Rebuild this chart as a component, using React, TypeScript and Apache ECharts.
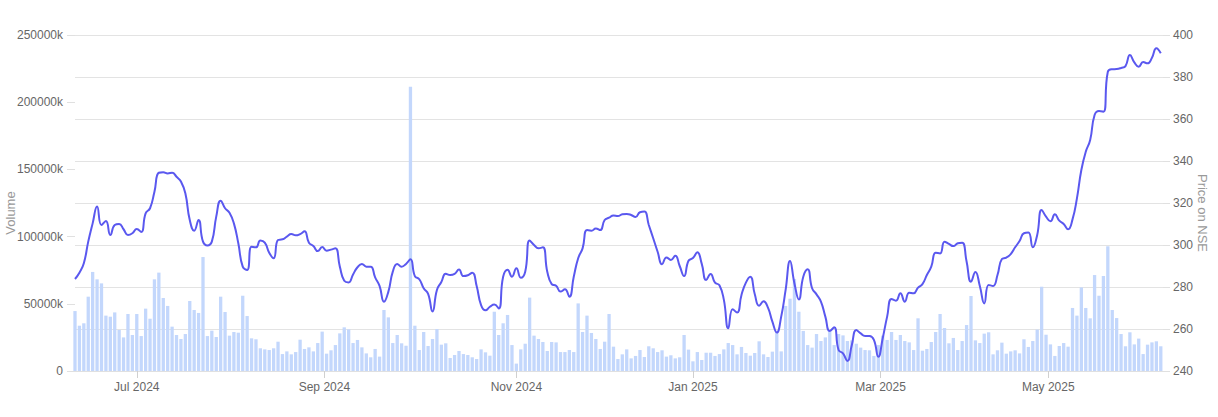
import React, { useEffect, useRef } from "react";
import * as echarts from "echarts";

// NSE trading days shown on the chart
const dates: string[] = [
  "2024-06-10","2024-06-11","2024-06-12","2024-06-13","2024-06-14","2024-06-18","2024-06-19","2024-06-20","2024-06-21","2024-06-24","2024-06-25","2024-06-26","2024-06-27","2024-06-28",
  "2024-07-01","2024-07-02","2024-07-03","2024-07-04","2024-07-05","2024-07-08","2024-07-09","2024-07-10","2024-07-11","2024-07-12","2024-07-15","2024-07-16","2024-07-18","2024-07-19","2024-07-22","2024-07-23","2024-07-24","2024-07-25","2024-07-26","2024-07-29","2024-07-30","2024-07-31",
  "2024-08-01","2024-08-02","2024-08-05","2024-08-06","2024-08-07","2024-08-08","2024-08-09","2024-08-12","2024-08-13","2024-08-14","2024-08-16","2024-08-19","2024-08-20","2024-08-21","2024-08-22","2024-08-23","2024-08-26","2024-08-27","2024-08-28","2024-08-29","2024-08-30",
  "2024-09-02","2024-09-03","2024-09-04","2024-09-05","2024-09-06","2024-09-09","2024-09-10","2024-09-11","2024-09-12","2024-09-13","2024-09-16","2024-09-17","2024-09-18","2024-09-19","2024-09-20","2024-09-23","2024-09-24","2024-09-25","2024-09-26","2024-09-27","2024-09-30",
  "2024-10-01","2024-10-03","2024-10-04","2024-10-07","2024-10-08","2024-10-09","2024-10-10","2024-10-11","2024-10-14","2024-10-15","2024-10-16","2024-10-17","2024-10-18","2024-10-21","2024-10-22","2024-10-23","2024-10-24","2024-10-25","2024-10-28","2024-10-29","2024-10-30","2024-10-31",
  "2024-11-01","2024-11-04","2024-11-05","2024-11-06","2024-11-07","2024-11-08","2024-11-11","2024-11-12","2024-11-13","2024-11-14","2024-11-18","2024-11-19","2024-11-21","2024-11-22","2024-11-25","2024-11-26","2024-11-27","2024-11-28","2024-11-29",
  "2024-12-02","2024-12-03","2024-12-04","2024-12-05","2024-12-06","2024-12-09","2024-12-10","2024-12-11","2024-12-12","2024-12-13","2024-12-16","2024-12-17","2024-12-18","2024-12-19","2024-12-20","2024-12-23","2024-12-24","2024-12-26","2024-12-27","2024-12-30","2024-12-31",
  "2025-01-01","2025-01-02","2025-01-03","2025-01-06","2025-01-07","2025-01-08","2025-01-09","2025-01-10","2025-01-13","2025-01-14","2025-01-15","2025-01-16","2025-01-17","2025-01-20","2025-01-21","2025-01-22","2025-01-23","2025-01-24","2025-01-27","2025-01-28","2025-01-29","2025-01-30","2025-01-31",
  "2025-02-01","2025-02-03","2025-02-04","2025-02-05","2025-02-06","2025-02-07","2025-02-10","2025-02-11","2025-02-12","2025-02-13","2025-02-14","2025-02-17","2025-02-18","2025-02-19","2025-02-20","2025-02-21","2025-02-24","2025-02-25","2025-02-27","2025-02-28",
  "2025-03-03","2025-03-04","2025-03-05","2025-03-06","2025-03-07","2025-03-10","2025-03-11","2025-03-12","2025-03-13","2025-03-17","2025-03-18","2025-03-19","2025-03-20","2025-03-21","2025-03-24","2025-03-25","2025-03-26","2025-03-27","2025-03-28",
  "2025-04-01","2025-04-02","2025-04-03","2025-04-04","2025-04-07","2025-04-08","2025-04-09","2025-04-11","2025-04-15","2025-04-16","2025-04-17","2025-04-21","2025-04-22","2025-04-23","2025-04-24","2025-04-25","2025-04-28","2025-04-29","2025-04-30",
  "2025-05-02","2025-05-05","2025-05-06","2025-05-07","2025-05-08","2025-05-09","2025-05-12","2025-05-13","2025-05-14","2025-05-15","2025-05-16","2025-05-19","2025-05-20","2025-05-21","2025-05-22","2025-05-23","2025-05-26","2025-05-27","2025-05-28","2025-05-29","2025-05-30",
  "2025-06-02","2025-06-03","2025-06-04","2025-06-05","2025-06-06",
];

// Daily volume, in thousands of shares
const volumeK: number[] = [
  44600, 33700, 35500, 55300, 73700, 68200, 65200, 41200, 40400, 43600,
  30500, 25000, 42400, 26800, 42400, 26000, 46400, 38900, 68200, 73200,
  54300, 48400, 33000, 26800, 23800, 27500, 52100, 45400, 43200, 84800,
  26000, 30000, 25300, 55300, 43900, 26300, 29000, 28500, 56000, 40900,
  24300, 23600, 16900, 16100, 15600, 16900, 21800, 12600, 14600, 12400,
  14100, 23300, 16400, 17600, 14600, 20800, 29300, 12900, 15400, 19300,
  28000, 32500, 31000, 20800, 23100, 17600, 13100, 10200, 16400, 10700,
  45400, 39900, 20800, 26800, 20600, 18800, 211500, 33700, 15600, 29000,
  18600, 23800, 31200, 19600, 20600, 9700, 11900, 14900, 12600, 11900,
  10200, 8900, 16100, 13900, 11400, 44100, 26800, 35500, 41700, 19300,
  5500, 16100, 20300, 54600, 26300, 23800, 21600, 14900, 21600, 21300,
  14100, 14100, 15600, 14100, 50300, 29000, 41200, 28300, 23800, 16400,
  21800, 42400, 18100, 8900, 12400, 16100, 9400, 11200, 15600, 10400,
  18400, 16900, 14100, 15400, 10700, 11700, 9400, 10200, 26800, 15900,
  7200, 14100, 8200, 13600, 13600, 11200, 12600, 16100, 20800, 19300,
  12400, 17900, 13400, 11400, 13400, 22100, 12400, 10400, 14400, 29000,
  14600, 48400, 53800, 68400, 44100, 29800, 19300, 17400, 27500, 22300,
  25000, 29300, 19300, 27500, 26500, 22300, 22800, 20300, 17400, 15600,
  15400, 11200, 19300, 26300, 23100, 29000, 23100, 26800, 22300, 21300,
  15600, 39200, 15100, 16400, 21600, 29000, 42400, 32000, 20600, 24600,
  15600, 22300, 34200, 55800, 22800, 20800, 27800, 28800, 12400, 15400,
  21100, 12900, 14600, 15400, 13100, 23600, 17900, 22300, 30800, 62700,
  27000, 19800, 11200, 18600, 20800, 18100, 46900, 41200, 62200, 46900,
  39200, 71400, 56000, 70700, 92800, 45400, 39400, 27500, 18400, 28800,
  19800, 24100, 12600, 19600, 21300, 22100, 18400,
];

// Closing price on NSE
const priceNSE: number[] = [
  283.8, 286.8, 291.3, 301.6, 310.3, 318.3, 309.5, 311.4, 304.8, 309.5,
  310.0, 307.5, 304.8, 305.6, 307.6, 306.2, 315.1, 317.5, 325.4, 334.4,
  334.6, 334.1, 334.4, 332.5, 330.2, 324.6, 311.9, 306.8, 311.9, 301.6,
  299.8, 301.6, 313.5, 321.1, 317.5, 315.4, 310.3, 300.8, 289.7, 288.1,
  299.2, 298.9, 302.1, 301.1, 296.3, 293.7, 302.4, 302.7, 304.0, 305.2,
  304.6, 305.2, 306.5, 301.1, 299.5, 297.1, 299.0, 297.3, 297.8, 298.4,
  289.7, 283.0, 282.2, 286.0, 289.4, 291.0, 289.7, 289.7, 284.6, 280.5,
  273.0, 277.8, 287.3, 291.0, 289.7, 291.0, 293.2, 285.2, 283.7, 279.4,
  276.7, 268.3, 278.6, 282.4, 286.3, 285.7, 286.2, 288.3, 285.2, 285.6,
  286.8, 280.5, 271.4, 268.9, 270.6, 271.7, 269.8, 284.9, 288.2, 284.9,
  288.9, 284.4, 287.3, 302.1, 300.0, 298.4, 298.9, 287.3, 281.4, 280.6,
  277.8, 278.9, 275.4, 284.9, 293.7, 298.4, 307.1, 306.8, 307.9, 307.1,
  311.9, 313.0, 314.1, 313.8, 314.6, 314.8, 314.3, 313.3, 315.6, 315.9,
  309.5, 303.2, 296.8, 290.8, 294.1, 292.9, 294.9, 290.0, 285.2, 292.5,
  293.8, 296.5, 291.0, 283.3, 286.2, 282.1, 280.8, 274.0, 260.3, 269.4,
  267.8, 276.2, 282.1, 284.9, 276.7, 271.1, 273.2, 270.2, 263.5, 258.3,
  265.9, 278.6, 292.4, 281.7, 274.1, 284.9, 288.4, 279.4, 276.5, 273.0,
  265.9, 259.0, 260.8, 250.0, 248.4, 244.8, 252.4, 259.5, 257.9, 256.7,
  256.7, 254.8, 246.8, 255.6, 265.9, 274.3, 273.5, 277.0, 273.0, 277.3,
  277.0, 279.7, 281.4, 285.7, 289.7, 296.3, 296.0, 301.6, 300.5, 299.5,
  300.8, 301.1, 292.1, 282.5, 287.1, 280.5, 272.2, 281.0, 280.5, 285.7,
  293.3, 294.0, 295.7, 298.9, 301.9, 305.6, 305.9, 298.9, 304.8, 316.7,
  313.5, 311.3, 314.6, 311.6, 310.0, 307.5, 312.2, 322.2, 335.7, 344.4,
  350.0, 361.9, 363.8, 363.5, 382.5, 383.7, 383.8, 384.3, 385.2, 390.5,
  387.0, 384.9, 387.1, 386.5, 389.2, 393.7, 391.3,
];

const monthKeys: string[] = ["2024-07", "2024-09", "2024-11", "2025-01", "2025-03", "2025-05"];
const monthLabels: string[] = ["Jul 2024", "Sep 2024", "Nov 2024", "Jan 2025", "Mar 2025", "May 2025"];

function monthTickPos(key: string): number {
  const idx = dates.findIndex((d) => d.startsWith(key));
  return dates[idx].endsWith("-01") ? idx : idx - 0.5;
}

export default function App() {
  const ref = useRef<HTMLDivElement>(null);
  useEffect(() => {
    if (!ref.current) return;
    const chart = echarts.init(ref.current, undefined, { renderer: "svg" });
    const tickPos = monthKeys.map(monthTickPos);
    const font = "'Liberation Sans', Arial, Helvetica, sans-serif";
    chart.setOption({
      animation: false,
      textStyle: { fontFamily: font },
      grid: {
        left: 75,
        right: 55,
        top: 35,
        bottom: 46,
        containLabel: false,
        outerBoundsMode: "none",
      },
      xAxis: {
        type: "value",
        min: 0,
        max: dates.length - 0.5,
        axisLine: { show: true, lineStyle: { color: "#e0e0e0", width: 1 } },
        axisTick: { show: true, customValues: tickPos, length: 7, lineStyle: { color: "#d0d0d0" } },
        axisLabel: {
          customValues: tickPos,
          color: "#666",
          fontSize: 12,
          margin: 10,
          fontFamily: font,
          formatter: (v: number) => {
            const k = tickPos.findIndex((p) => Math.abs(p - v) < 0.01);
            return k >= 0 ? monthLabels[k] : "";
          },
        },
        splitLine: { show: false },
      },
      yAxis: [
        {
          type: "value",
          position: "left",
          name: "Volume",
          nameLocation: "middle",
          nameGap: 58,
          nameMoveOverlap: false,
          nameTextStyle: { color: "#999", fontSize: 13, fontFamily: font, padding: [0, 20, 0, 0] },
          min: 0,
          max: 250000,
          interval: 50000,
          axisLine: { show: false },
          axisTick: { show: true, length: 8, lineStyle: { color: "#e0e0e0" } },
          axisLabel: {
            color: "#666",
            fontSize: 12,
            margin: 12,
            fontFamily: font,
            formatter: (v: number) => (v === 0 ? "0" : `${v}k`),
          },
          splitLine: { show: false },
        },
        {
          type: "value",
          position: "right",
          name: "Price on NSE",
          nameLocation: "middle",
          nameRotate: -90,
          nameGap: 33,
          nameMoveOverlap: false,
          nameTextStyle: { color: "#999", fontSize: 13, fontFamily: font, padding: [0, 0, 0, 20] },
          min: 240,
          max: 400,
          interval: 20,
          axisLine: { show: false },
          axisTick: { show: true, length: 7, lineStyle: { color: "#e0e0e0" } },
          axisLabel: { color: "#666", fontSize: 12, margin: 10, fontFamily: font },
          splitLine: { show: true, lineStyle: { color: "#e3e3e3", width: 1 } },
        },
      ],
      series: [
        {
          name: "Volume",
          type: "bar",
          xAxisIndex: 0,
          yAxisIndex: 0,
          data: volumeK.map((v, i) => [i, v]),
          barWidth: 3.3,
          clip: true,
          itemStyle: { color: "#c3d7fc" },
          z: 1,
        },
        {
          name: "Price on NSE",
          type: "line",
          xAxisIndex: 0,
          yAxisIndex: 1,
          data: priceNSE.map((v, i) => [i, v]),
          smooth: true,
          showSymbol: false,
          symbol: "none",
          lineStyle: { color: "#5a58ef", width: 2 },
          itemStyle: { color: "#5a58ef" },
          z: 3,
        },
      ],
    });
    return () => chart.dispose();
  }, []);
  return (
    <div
      ref={ref}
      style={{ position: "fixed", left: 0, top: 0, width: 1218, height: 417, background: "#fff" }}
    />
  );
}
